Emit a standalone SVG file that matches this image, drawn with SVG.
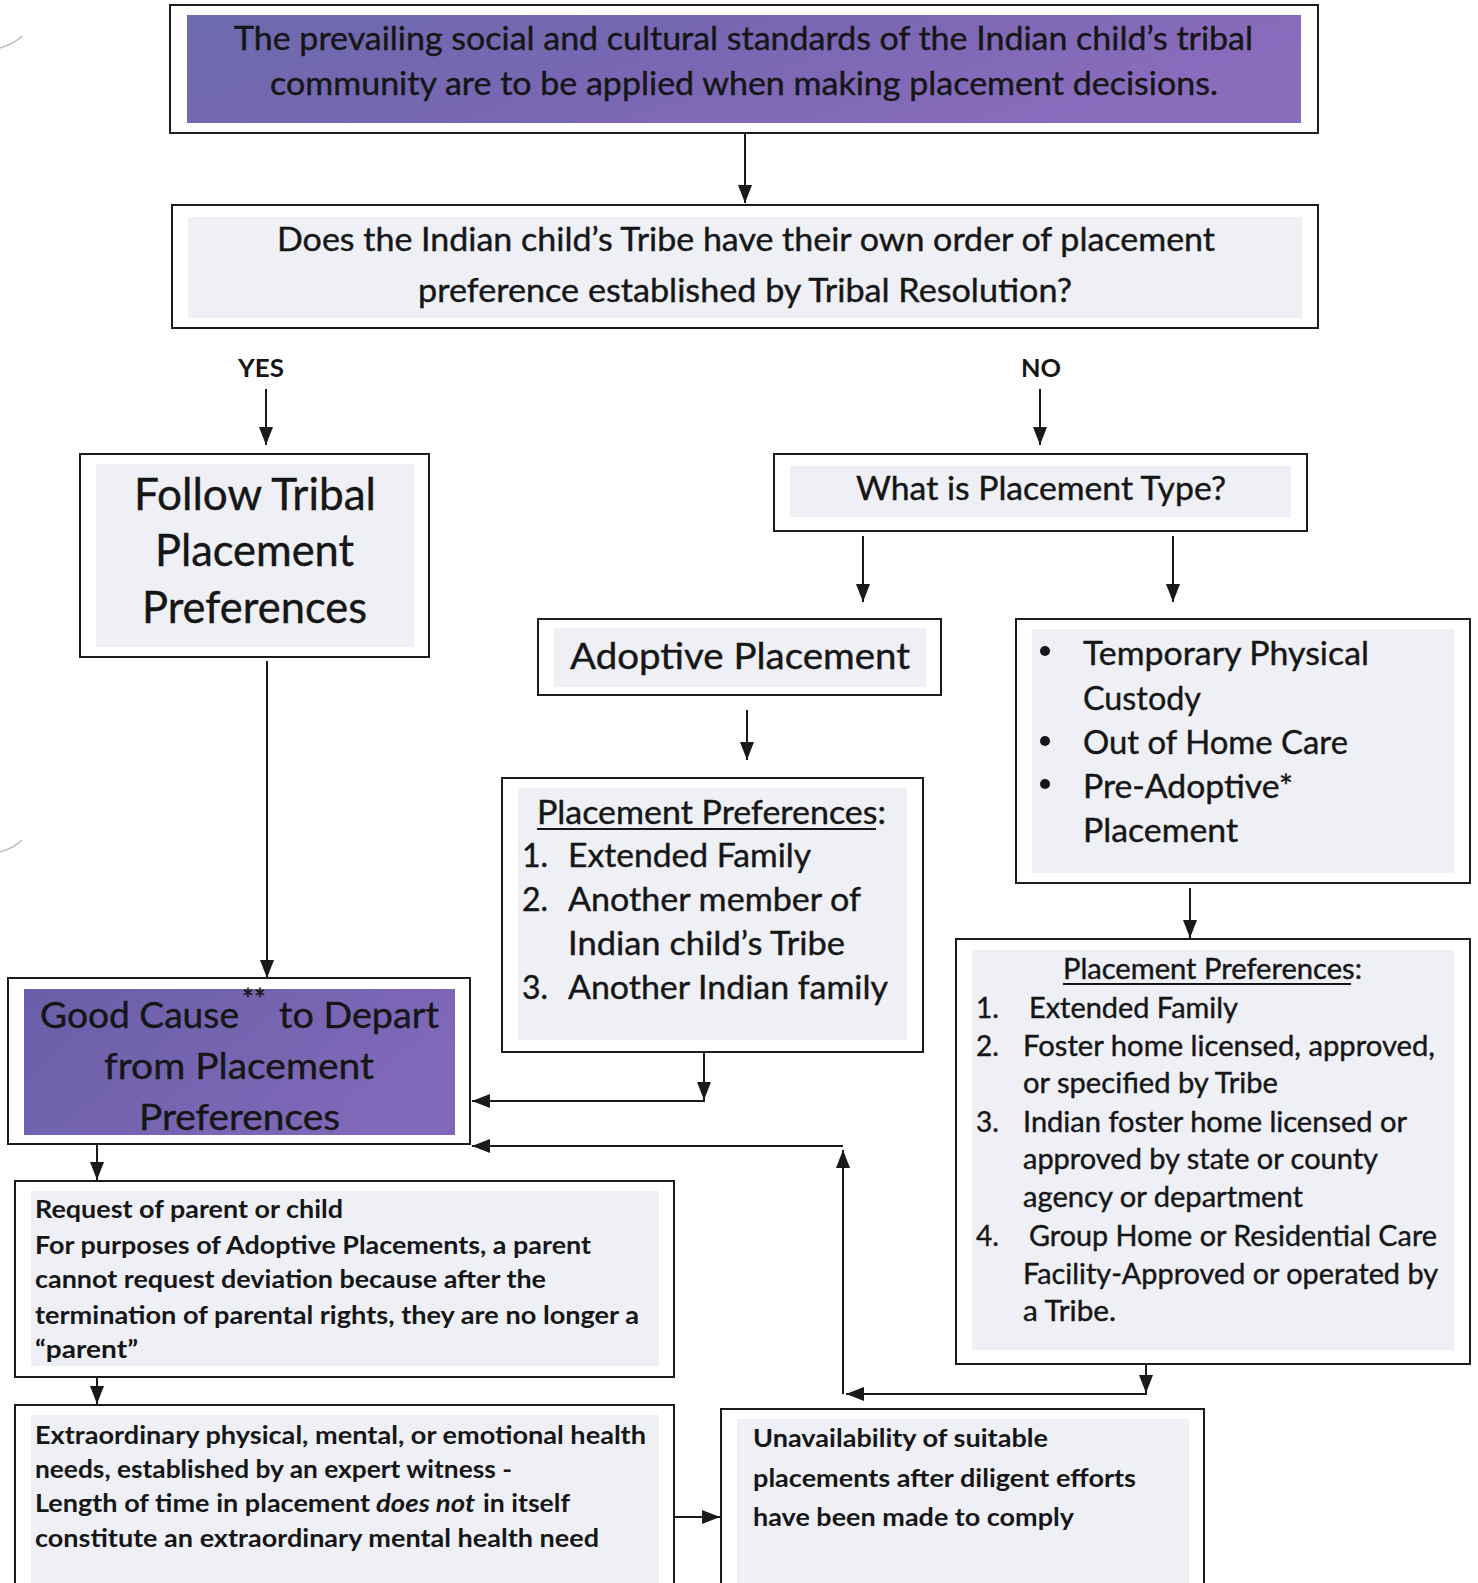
<svg xmlns="http://www.w3.org/2000/svg" width="1478" height="1583" viewBox="0 0 1478 1583">
<defs>
<linearGradient id="purp" x1="0" y1="0" x2="1" y2="0.3">
<stop offset="0" stop-color="#6c6aad"/>
<stop offset="0.5" stop-color="#7867b3"/>
<stop offset="1" stop-color="#8a6cbd"/>
</linearGradient>
<linearGradient id="purp2" x1="0" y1="0" x2="1" y2="0.4">
<stop offset="0" stop-color="#6a5ea8"/>
<stop offset="0.5" stop-color="#7464b0"/>
<stop offset="1" stop-color="#8068b8"/>
</linearGradient>
<marker id="ah" markerWidth="18" markerHeight="14" refX="18" refY="7" orient="auto" markerUnits="userSpaceOnUse">
<path d="M0,0 L18,7 L0,14 Z" fill="#1a1a1a"/>
</marker>
<style>
.outer{fill:#fff;stroke:#1c1c1c;stroke-width:2}
.inner{fill:#eef0f6}
.t{font-family:Lato,"Open Sans","Liberation Sans",sans-serif;fill:#161616;stroke:#161616;stroke-width:0.4}
.b{font-family:Lato,"Open Sans","Liberation Sans",sans-serif;font-weight:bold;fill:#161616}
.c{fill:none;stroke:#1a1a1a;stroke-width:2;marker-end:url(#ah)}
.scan{fill:none;stroke:#bbb;stroke-width:1.5}
</style>
</defs>
<rect width="1478" height="1583" fill="#ffffff"/>
<path class="scan" d="M0,48 Q14,44 22,36"/>
<path class="scan" d="M0,852 Q14,848 22,840"/>

<g id="connectors">
<line class="c" x1="745" y1="134" x2="745" y2="203"/>
<line class="c" x1="266" y1="389" x2="266" y2="445"/>
<line class="c" x1="1040" y1="389" x2="1040" y2="445"/>
<line class="c" x1="863" y1="536" x2="863" y2="602"/>
<line class="c" x1="1173" y1="536" x2="1173" y2="602"/>
<line class="c" x1="747" y1="710" x2="747" y2="760"/>
<line class="c" x1="1190" y1="888" x2="1190" y2="938"/>
<line class="c" x1="267" y1="661" x2="267" y2="978"/>
<line class="c" x1="704" y1="1052" x2="704" y2="1100"/>
<line class="c" x1="705" y1="1101" x2="472" y2="1101"/>
<line class="c" x1="1146" y1="1364" x2="1146" y2="1393"/>
<line class="c" x1="1147" y1="1394" x2="846" y2="1394"/>
<line class="c" x1="843" y1="1394" x2="843" y2="1150"/>
<line class="c" x1="843" y1="1146" x2="472" y2="1146"/>
<line class="c" x1="97" y1="1144" x2="97" y2="1180"/>
<line class="c" x1="97" y1="1377" x2="97" y2="1404"/>
<line class="c" x1="674" y1="1517" x2="720" y2="1517"/>
</g>

<g id="n-standards">
<rect class="outer" x="170" y="5" width="1148" height="128"/>
<rect x="187" y="15" width="1114" height="108" fill="url(#purp)"/>
<text class="t" x="234" y="50" font-size="32" textLength="1019" lengthAdjust="spacingAndGlyphs">The prevailing social and cultural standards of the Indian child’s tribal</text>
<text class="t" x="270" y="95" font-size="32" textLength="948" lengthAdjust="spacingAndGlyphs">community are to be applied when making placement decisions.</text>
</g>

<g id="n-question">
<rect class="outer" x="172" y="205" width="1146" height="123"/>
<rect class="inner" x="188" y="217" width="1114" height="101"/>
<text class="t" x="277" y="251" font-size="32" textLength="938" lengthAdjust="spacingAndGlyphs">Does the Indian child’s Tribe have their own order of placement</text>
<text class="t" x="418" y="302" font-size="32" textLength="654" lengthAdjust="spacingAndGlyphs">preference established by Tribal Resolution?</text>
</g>

<g id="l-yes"><text class="b" x="238" y="377" font-size="24" textLength="46" lengthAdjust="spacingAndGlyphs">YES</text></g>
<g id="l-no"><text class="b" x="1021" y="377" font-size="24" textLength="40" lengthAdjust="spacingAndGlyphs">NO</text></g>

<g id="n-follow">
<rect class="outer" x="80" y="454" width="349" height="203"/>
<rect class="inner" x="96" y="464" width="318" height="183"/>
<text class="t" x="134" y="510" font-size="44" textLength="242" lengthAdjust="spacingAndGlyphs">Follow Tribal</text>
<text class="t" x="155" y="566" font-size="44" textLength="199" lengthAdjust="spacingAndGlyphs">Placement</text>
<text class="t" x="142" y="623" font-size="44" textLength="225" lengthAdjust="spacingAndGlyphs">Preferences</text>
</g>

<g id="n-type">
<rect class="outer" x="774" y="454" width="533" height="77"/>
<rect class="inner" x="790" y="466" width="501" height="51"/>
<text class="t" x="856" y="500" font-size="32" textLength="370" lengthAdjust="spacingAndGlyphs">What is Placement Type?</text>
</g>

<g id="n-adoptive">
<rect class="outer" x="538" y="619" width="403" height="76"/>
<rect class="inner" x="554" y="628" width="372" height="59"/>
<text class="t" x="570" y="669" font-size="37" textLength="340" lengthAdjust="spacingAndGlyphs">Adoptive Placement</text>
</g>

<g id="n-adoptive-prefs">
<rect class="outer" x="502" y="778" width="421" height="274"/>
<rect class="inner" x="518" y="788" width="389" height="252"/>
<text class="t" x="537" y="824" font-size="32" textLength="349" lengthAdjust="spacingAndGlyphs">Placement Preferences:</text>
<line x1="537" y1="829" x2="876" y2="829" stroke="#161616" stroke-width="2"/>
<text class="t" x="522" y="867" font-size="32">1.</text>
<text class="t" x="568" y="867" font-size="32" textLength="243" lengthAdjust="spacingAndGlyphs">Extended Family</text>
<text class="t" x="522" y="911" font-size="32">2.</text>
<text class="t" x="568" y="911" font-size="32" textLength="293" lengthAdjust="spacingAndGlyphs">Another member of</text>
<text class="t" x="568" y="955" font-size="32" textLength="277" lengthAdjust="spacingAndGlyphs">Indian child’s Tribe</text>
<text class="t" x="522" y="999" font-size="32">3.</text>
<text class="t" x="568" y="999" font-size="32" textLength="320" lengthAdjust="spacingAndGlyphs">Another Indian family</text>
</g>

<g id="n-temporary">
<rect class="outer" x="1016" y="619" width="454" height="264"/>
<rect class="inner" x="1032" y="629" width="422" height="244"/>
<circle cx="1045" cy="651" r="5" fill="#161616"/>
<circle cx="1045" cy="741" r="5" fill="#161616"/>
<circle cx="1045" cy="784" r="5" fill="#161616"/>
<text class="t" x="1083" y="665" font-size="33" textLength="286" lengthAdjust="spacingAndGlyphs">Temporary Physical</text>
<text class="t" x="1083" y="710" font-size="33" textLength="118" lengthAdjust="spacingAndGlyphs">Custody</text>
<text class="t" x="1083" y="754" font-size="33" textLength="265" lengthAdjust="spacingAndGlyphs">Out of Home Care</text>
<text class="t" x="1083" y="798" font-size="33" textLength="210" lengthAdjust="spacingAndGlyphs">Pre-Adoptive*</text>
<text class="t" x="1083" y="842" font-size="33" textLength="155" lengthAdjust="spacingAndGlyphs">Placement</text>
</g>

<g id="n-other-prefs">
<rect class="outer" x="956" y="939" width="514" height="425"/>
<rect class="inner" x="972" y="950" width="482" height="400"/>
<text class="t" x="1063" y="979" font-size="28" textLength="299" lengthAdjust="spacingAndGlyphs">Placement Preferences:</text>
<line x1="1063" y1="984" x2="1351" y2="984" stroke="#161616" stroke-width="1.8"/>
<text class="t" x="976" y="1018" font-size="28">1.</text>
<text class="t" x="1029" y="1018" font-size="28" textLength="209" lengthAdjust="spacingAndGlyphs">Extended Family</text>
<text class="t" x="976" y="1056" font-size="28">2.</text>
<text class="t" x="1023" y="1056" font-size="28" textLength="412" lengthAdjust="spacingAndGlyphs">Foster home licensed, approved,</text>
<text class="t" x="1023" y="1093" font-size="28" textLength="255" lengthAdjust="spacingAndGlyphs">or specified by Tribe</text>
<text class="t" x="976" y="1132" font-size="28">3.</text>
<text class="t" x="1023" y="1132" font-size="28" textLength="384" lengthAdjust="spacingAndGlyphs">Indian foster home licensed or</text>
<text class="t" x="1023" y="1169" font-size="28" textLength="355" lengthAdjust="spacingAndGlyphs">approved by state or county</text>
<text class="t" x="1023" y="1207" font-size="28" textLength="280" lengthAdjust="spacingAndGlyphs">agency or department</text>
<text class="t" x="976" y="1246" font-size="28">4.</text>
<text class="t" x="1029" y="1246" font-size="28" textLength="408" lengthAdjust="spacingAndGlyphs">Group Home or Residential Care</text>
<text class="t" x="1023" y="1284" font-size="28" textLength="415" lengthAdjust="spacingAndGlyphs">Facility-Approved or operated by</text>
<text class="t" x="1023" y="1321" font-size="28" textLength="93" lengthAdjust="spacingAndGlyphs">a Tribe.</text>
</g>

<g id="n-goodcause">
<rect class="outer" x="8" y="978" width="462" height="166"/>
<rect x="24" y="989" width="431" height="146" fill="url(#purp2)"/>
<text class="t" x="40" y="1028" font-size="37" textLength="199" lengthAdjust="spacingAndGlyphs">Good Cause</text>
<text class="t" x="242" y="1010" font-size="28">**</text>
<text class="t" x="279" y="1028" font-size="37" textLength="160" lengthAdjust="spacingAndGlyphs">to Depart</text>
<text class="t" x="104" y="1079" font-size="37" textLength="270" lengthAdjust="spacingAndGlyphs">from Placement</text>
<text class="t" x="139" y="1130" font-size="37" textLength="201" lengthAdjust="spacingAndGlyphs">Preferences</text>
</g>

<g id="n-request">
<rect class="outer" x="15" y="1181" width="659" height="196"/>
<rect class="inner" x="31" y="1191" width="628" height="175"/>
<text class="b" x="35" y="1218" font-size="25" textLength="308" lengthAdjust="spacingAndGlyphs">Request of parent or child</text>
<text class="b" x="35" y="1254" font-size="25" textLength="556" lengthAdjust="spacingAndGlyphs">For purposes of Adoptive Placements, a parent</text>
<text class="b" x="35" y="1288" font-size="25" textLength="511" lengthAdjust="spacingAndGlyphs">cannot request deviation because after the</text>
<text class="b" x="35" y="1324" font-size="25" textLength="604" lengthAdjust="spacingAndGlyphs">termination of parental rights, they are no longer a</text>
<text class="b" x="35" y="1358" font-size="25" textLength="103" lengthAdjust="spacingAndGlyphs">“parent”</text>
</g>

<g id="n-extraordinary">
<rect class="outer" x="15" y="1405" width="659" height="200"/>
<rect class="inner" x="31" y="1415" width="628" height="180"/>
<text class="b" x="35" y="1444" font-size="25" textLength="611" lengthAdjust="spacingAndGlyphs">Extraordinary physical, mental, or emotional health</text>
<text class="b" x="35" y="1478" font-size="25" textLength="477" lengthAdjust="spacingAndGlyphs">needs, established by an expert witness -</text>
<text class="b" x="35" y="1512" font-size="25" textLength="335" lengthAdjust="spacingAndGlyphs">Length of time in placement</text>
<text class="b" x="376" y="1512" font-size="25" font-style="italic" textLength="99" lengthAdjust="spacingAndGlyphs">does not</text>
<text class="b" x="483" y="1512" font-size="25" textLength="87" lengthAdjust="spacingAndGlyphs">in itself</text>
<text class="b" x="35" y="1547" font-size="25" textLength="564" lengthAdjust="spacingAndGlyphs">constitute an extraordinary mental health need</text>
</g>

<g id="n-unavailability">
<rect class="outer" x="721" y="1409" width="483" height="200"/>
<rect class="inner" x="737" y="1419" width="452" height="180"/>
<text class="b" x="753" y="1447" font-size="25" textLength="295" lengthAdjust="spacingAndGlyphs">Unavailability of suitable</text>
<text class="b" x="753" y="1487" font-size="25" textLength="383" lengthAdjust="spacingAndGlyphs">placements after diligent efforts</text>
<text class="b" x="753" y="1526" font-size="25" textLength="321" lengthAdjust="spacingAndGlyphs">have been made to comply</text>
</g>
</svg>
